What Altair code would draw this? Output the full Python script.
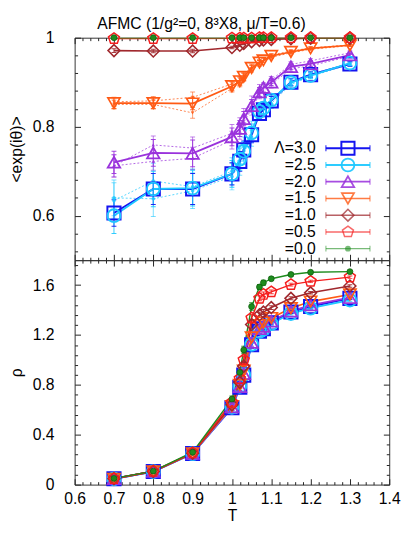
import altair as alt
import pandas as pd

FONT = "Liberation Sans"
TITLE = "AFMC (1/g²=0, 8³X8, μ/T=0.6)"

# ---------------- data ----------------
T = [0.7, 0.8, 0.9, 1.0, 1.02, 1.03, 1.05, 1.07, 1.08, 1.1, 1.15, 1.2, 1.3]
T_DOT = [0.7, 0.8, 0.9, 1.0, 1.02, 1.03, 1.05, 1.07, 1.1, 1.15, 1.2, 1.3]

LAMS = ["3.0", "2.5", "2.0", "1.5", "1.0", "0.5", "0.0"]
LEGEND_TEXT = ["Λ=3.0", "=2.5", "=2.0", "=1.5", "=1.0", "=0.5", "=0.0"]
COLORS = ["#1414f0", "#1ec8ff", "#9a32dc", "#ff5a14", "#a0282d", "#f51e1e", "#1e8c1e"]
PENTAGON = "M0,-1L0.951,-0.309L0.588,0.809L-0.588,0.809L-0.951,-0.309Z"
SHAPES = ["square", "circle", "triangle-up", "triangle-down", "diamond", PENTAGON, "circle"]
SIZES = [180, 130, 120, 100, 60, 55, 36]
WIDTHS = [2.0, 1.4, 1.2, 1.2, 1.2, 1.2, 1.2]
LEG_OPAC = [1.0, 0.6, 0.6, 0.55, 0.55, 0.55, 0.55]

# <exp(i theta)>  (top panel)
EXP = {
    "3.0": [0.606, 0.660, 0.660, 0.694, 0.722, 0.748, 0.782, 0.830, 0.838, 0.858, 0.900, 0.917, 0.941],
    "2.5": [0.600, 0.660, 0.662, 0.694, 0.727, 0.745, 0.786, 0.834, 0.842, 0.860, 0.899, 0.915, 0.943],
    "2.0": [0.720, 0.741, 0.740, 0.777, 0.796, 0.818, 0.847, 0.878, 0.888, 0.900, 0.935, 0.941, 0.961],
    "1.5": [0.853, 0.853, 0.852, 0.891, 0.902, 0.912, 0.932, 0.944, 0.949, 0.959, 0.968, 0.976, 0.983],
    "1.0": [0.971, 0.970, 0.970, 0.978, 0.983, 0.987, 0.991, 0.994, 0.995, 0.996, 0.998, 0.999, 0.999],
    "0.5": [0.998, 0.998, 0.998, 0.999, 0.999, 0.999, 0.999, 1.000, 1.000, 1.000, 1.000, 1.000, 1.000],
    "0.0": [1.000, 1.000, 1.000, 1.000, 1.000, 1.000, 1.000, 1.000, 1.000, 1.000, 1.000, 1.000, 1.000],
}
EXP_ERR = {
    "3.0": [0.030, 0.035, 0.035, 0.025, 0.022, 0.020, 0.018, 0.012, 0.012, 0.010, 0.008, 0.006, 0.005],
    "2.5": [0.040, 0.040, 0.040, 0.030, 0.025, 0.022, 0.020, 0.014, 0.013, 0.011, 0.008, 0.006, 0.005],
    "2.0": [0.025, 0.030, 0.030, 0.020, 0.018, 0.016, 0.014, 0.010, 0.010, 0.008, 0.006, 0.005, 0.004],
    "1.5": [0.012, 0.012, 0.014, 0.010, 0.009, 0.008, 0.006, 0.005, 0.005, 0.004, 0.003, 0.003, 0.002],
    "1.0": [0.004, 0.004, 0.004, 0.003, 0.003, 0.003, 0.002, 0.002, 0.002, 0.002, 0.001, 0.001, 0.001],
    "0.5": [0.001, 0.001, 0.001, 0.001, 0.001, 0.001, 0.001, 0.000, 0.000, 0.000, 0.000, 0.000, 0.000],
    "0.0": [0.000, 0.000, 0.000, 0.000, 0.000, 0.000, 0.000, 0.000, 0.000, 0.000, 0.000, 0.000, 0.000],
}
# additional runs drawn dotted
EXP_DOT = {
    ("2.5", "a"): [0.634, 0.678, 0.665, 0.700, 0.732, 0.755, 0.792, 0.838, 0.862, 0.901, 0.918, 0.942],
    ("2.5", "b"): [0.640, 0.638, 0.656, 0.688, 0.716, 0.738, 0.776, 0.828, 0.852, 0.895, 0.913, 0.940],
    ("2.0", "a"): [0.712, 0.759, 0.752, 0.785, 0.802, 0.825, 0.855, 0.885, 0.905, 0.940, 0.948, 0.966],
    ("2.0", "b"): [0.712, 0.722, 0.729, 0.770, 0.790, 0.810, 0.840, 0.873, 0.895, 0.930, 0.937, 0.958],
    ("1.5", "a"): [0.856, 0.858, 0.866, 0.896, 0.906, 0.916, 0.936, 0.947, 0.961, 0.970, 0.977, 0.984],
    ("1.5", "b"): [0.850, 0.850, 0.831, 0.886, 0.897, 0.908, 0.928, 0.940, 0.956, 0.966, 0.974, 0.982],
}
EXP_DOT_ERR = {
    "2.5": [0.040, 0.040, 0.040, 0.030, 0.025, 0.022, 0.020, 0.014, 0.011, 0.008, 0.006, 0.005],
    "2.0": [0.025, 0.020, 0.025, 0.020, 0.018, 0.016, 0.014, 0.010, 0.008, 0.006, 0.005, 0.004],
    "1.5": [0.010, 0.010, 0.012, 0.008, 0.007, 0.006, 0.005, 0.004, 0.003, 0.003, 0.002, 0.002],
}

# rho  (bottom panel)
RHO = {
    "3.0": [0.047, 0.105, 0.249, 0.616, 0.781, 0.878, 1.122, 1.230, 1.250, 1.297, 1.384, 1.428, 1.494],
    "2.5": [0.046, 0.104, 0.248, 0.620, 0.788, 0.882, 1.125, 1.228, 1.245, 1.290, 1.372, 1.415, 1.480],
    "2.0": [0.047, 0.105, 0.250, 0.622, 0.785, 0.890, 1.140, 1.250, 1.268, 1.310, 1.390, 1.440, 1.500],
    "1.5": [0.047, 0.106, 0.251, 0.630, 0.800, 0.915, 1.180, 1.280, 1.300, 1.336, 1.415, 1.468, 1.525],
    "1.0": [0.048, 0.106, 0.252, 0.640, 0.820, 0.950, 1.284, 1.362, 1.384, 1.420, 1.494, 1.538, 1.593],
    "0.5": [0.048, 0.107, 0.255, 0.660, 0.850, 1.000, 1.336, 1.494, 1.525, 1.546, 1.604, 1.630, 1.664],
    "0.0": [0.050, 0.108, 0.260, 0.686, 0.900, 1.080, 1.428, 1.585, 1.619, 1.651, 1.685, 1.703, 1.708],
}
RHO_ERR = [0.005, 0.008, 0.012, 0.025, 0.030, 0.030, 0.030, 0.020, 0.020, 0.015, 0.012, 0.010, 0.010]

# ticks
XMAJ = [0.6, 0.7, 0.8, 0.9, 1.0, 1.1, 1.2, 1.3, 1.4]
XMIN = [round(0.6 + 0.02 * i, 2) for i in range(41) if i % 5]
Y1MAJ = [0.6, 0.8, 1.0]
Y1MIN = [0.52, 0.56, 0.64, 0.68, 0.72, 0.76, 0.84, 0.88, 0.92, 0.96]
Y2MAJ = [0, 0.4, 0.8, 1.2, 1.6]
Y2MIN = [round(0.08 * i, 2) for i in range(23) if i % 5]

# legend placement (data units of top panel)
LEG_XT, LEG_X0, LEG_X1, LEG_XM = 1.213, 1.239, 1.351, 1.295
LEG_Y0, LEG_DY = 0.7515, 0.0376


def rows(tvals, vals, errs, lam, var):
    return [dict(T=t, val=v, lo=v - e, hi=v + e, lam=lam, var=var, sid=lam + var)
            for t, v, e in zip(tvals, vals, errs)]


top_rows = []
for (lam, var), vals in EXP_DOT.items():
    top_rows += rows(T_DOT, vals, EXP_DOT_ERR[lam], lam, var)
for lam in LAMS:
    top_rows += rows(T, EXP[lam], EXP_ERR[lam], lam, "main")
top_df = pd.DataFrame(top_rows)

bot_rows = []
for lam in LAMS:
    bot_rows += rows(T, RHO[lam], RHO_ERR, lam, "main")
bot_df = pd.DataFrame(bot_rows)

leg_df = pd.DataFrame({
    "label": LEGEND_TEXT,
    "lam": LAMS,
    "ly": [LEG_Y0 - i * LEG_DY for i in range(len(LAMS))],
    "lxt": [LEG_XT] * len(LAMS),
    "lx0": [LEG_X0] * len(LAMS),
    "lx1": [LEG_X1] * len(LAMS),
    "lxm": [LEG_XM] * len(LAMS),
})

XS = alt.Scale(domain=[0.6, 1.4], nice=False, zero=False)
COLOR = alt.Color("lam:N", scale=alt.Scale(domain=LAMS, range=COLORS), legend=None)
SHAPE = alt.Shape("lam:N", scale=alt.Scale(domain=LAMS, range=SHAPES), legend=None)
SIZE = alt.Size("lam:N", scale=alt.Scale(domain=LAMS, range=SIZES), legend=None)
SW = alt.StrokeWidth("lam:N", scale=alt.Scale(domain=LAMS, range=WIDTHS), legend=None)

AX = dict(domain=False, grid=False, tickColor="#222", tickWidth=1, minExtent=0,
          labelFont=FONT, labelFontSize=16, labelColor="black", labelFlush=False,
          titleFont=FONT, titleFontSize=16, titleFontWeight="normal", titleColor="black")


def data_layers(df, ys):
    x = alt.X("T:Q", scale=XS, axis=None)
    y = alt.Y("val:Q", scale=ys, axis=None)
    base = alt.Chart(df)
    dots = base.transform_filter("datum.var != 'main'")
    mains = base.transform_filter("datum.var == 'main'")
    out = []
    out.append(dots.mark_line(strokeDash=[2, 2], strokeWidth=1, opacity=0.75, clip=True)
               .encode(x=x, y=y, color=COLOR, detail="sid:N"))
    out.append(dots.mark_rule(strokeWidth=1, opacity=0.6, clip=True)
               .encode(x=x, y=alt.Y("lo:Q", scale=ys, axis=None), y2="hi:Q", color=COLOR))
    out.append(dots.transform_fold(["lo", "hi"], as_=["end", "cap"])
               .mark_tick(orient="horizontal", size=5, thickness=1, opacity=0.6, clip=True)
               .encode(x=x, y=alt.Y("cap:Q", scale=ys, axis=None), color=COLOR))
    out.append(mains.mark_line(clip=True)
               .encode(x=x, y=y, color=COLOR, strokeWidth=SW, detail="sid:N"))
    out.append(mains.mark_rule(strokeWidth=1, opacity=0.9, clip=True)
               .encode(x=x, y=alt.Y("lo:Q", scale=ys, axis=None), y2="hi:Q", color=COLOR))
    out.append(mains.transform_fold(["lo", "hi"], as_=["end", "cap"])
               .mark_tick(orient="horizontal", size=5, thickness=1, opacity=0.9, clip=True)
               .encode(x=x, y=alt.Y("cap:Q", scale=ys, axis=None), color=COLOR))
    out.append(dots.mark_point(filled=True, size=14, opacity=0.8)
               .encode(x=x, y=y, color=COLOR, shape=SHAPE))
    out.append(mains.transform_filter("datum.lam != '0.0'")
               .mark_point(filled=False, opacity=1)
               .encode(x=x, y=y, color=COLOR, shape=SHAPE, size=SIZE, strokeWidth=SW))
    out.append(mains.transform_filter("datum.lam == '0.0'")
               .mark_point(filled=True, size=36, opacity=1, stroke="#0f5f0f", strokeWidth=0.8)
               .encode(x=x, y=y, color=COLOR))
    return out


def legend_layers(ys):
    b = alt.Chart(leg_df)
    y = alt.Y("ly:Q", scale=ys, axis=None)
    op = alt.Opacity("lam:N", scale=alt.Scale(domain=LAMS, range=LEG_OPAC), legend=None)
    out = []
    out.append(b.mark_text(align="right", baseline="middle", font=FONT, fontSize=16, color="black")
               .encode(x=alt.X("lxt:Q", scale=XS, axis=None), y=y, text="label:N"))
    out.append(b.mark_rule().encode(x=alt.X("lx0:Q", scale=XS, axis=None), x2="lx1:Q", y=y,
                                     color=COLOR, opacity=op, strokeWidth=SW))
    out.append(b.transform_fold(["lx0", "lx1"], as_=["end", "capx"])
               .mark_tick(orient="vertical", size=6, thickness=1)
               .encode(x=alt.X("capx:Q", scale=XS, axis=None), y=y, color=COLOR, opacity=op))
    out.append(b.transform_filter("datum.lam != '0.0'").mark_point(filled=False)
               .encode(x=alt.X("lxm:Q", scale=XS, axis=None), y=y, color=COLOR, opacity=op,
                       shape=SHAPE, size=SIZE, strokeWidth=SW))
    out.append(b.transform_filter("datum.lam == '0.0'").mark_point(filled=True, size=36)
               .encode(x=alt.X("lxm:Q", scale=XS, axis=None), y=y, color=COLOR, opacity=op))
    return out


def title_layer():
    return alt.Chart(pd.DataFrame({"t": [TITLE]})).mark_text(
        align="left", baseline="alphabetic", font=FONT, fontSize=16, color="black"
    ).encode(text="t:N", x=alt.value(23), y=alt.value(-9))


def tick_layers(df, ys, ymaj, ymin, xlabels, ytitle):
    inv = alt.Chart(df).mark_point(opacity=0, size=1)
    l1 = inv.encode(
        x=alt.X("T:Q", scale=XS, axis=alt.Axis(
            orient="bottom", values=XMAJ, tickSize=6, offset=-6, labels=xlabels, format="~g",
            labelPadding=6, title=("T" if xlabels else None), titlePadding=2, **AX)),
        y=alt.Y("val:Q", scale=ys, axis=alt.Axis(
            orient="left", values=ymaj, tickSize=6, offset=-6, format="~g",
            labelPadding=21, title=ytitle, titlePadding=8, **AX)))
    l2 = inv.encode(
        x=alt.X("T:Q", scale=XS, axis=alt.Axis(orient="bottom", values=XMIN, tickSize=3, offset=-3,
                                               labels=False, title=None, **AX)),
        y=alt.Y("val:Q", scale=ys, axis=alt.Axis(orient="left", values=ymin, tickSize=3, offset=-3,
                                                 labels=False, title=None, **AX)))
    l3 = inv.encode(
        x=alt.X("T:Q", scale=XS, axis=alt.Axis(orient="top", values=XMAJ, tickSize=6, offset=-6,
                                               labels=False, title=None, **AX)),
        y=alt.Y("val:Q", scale=ys, axis=alt.Axis(orient="right", values=ymaj, tickSize=6, offset=-6,
                                                 labels=False, title=None, **AX)))
    l4 = inv.encode(
        x=alt.X("T:Q", scale=XS, axis=alt.Axis(orient="top", values=XMIN, tickSize=3, offset=-3,
                                               labels=False, title=None, **AX)),
        y=alt.Y("val:Q", scale=ys, axis=alt.Axis(orient="right", values=ymin, tickSize=3, offset=-3,
                                                 labels=False, title=None, **AX)))
    return [l1, l2, l3, l4]


YS1 = alt.Scale(domain=[0.5, 1.0], nice=False, zero=False)
YS2 = alt.Scale(domain=[0.0, 1.8], nice=False, zero=False)

top = alt.layer(
    *data_layers(top_df, YS1),
    *legend_layers(YS1),
    title_layer(),
    *tick_layers(top_df, YS1, Y1MAJ, Y1MIN, False, "<exp(iθ)>"),
).resolve_axis(x="independent", y="independent").properties(width=321, height=227)

bottom = alt.layer(
    *data_layers(bot_df, YS2),
    *tick_layers(bot_df, YS2, Y2MAJ, Y2MIN, True, "ρ"),
).resolve_axis(x="independent", y="independent").properties(width=321, height=229)

chart = alt.vconcat(top, bottom, spacing=0, bounds="flush").properties(
    padding={"left": 0, "top": 2, "right": 0, "bottom": 0}
).configure(font=FONT, background="white").configure_view(stroke="#333", strokeWidth=1)

chart.save("out.html", embed_options={"renderer": "svg", "actions": False})
